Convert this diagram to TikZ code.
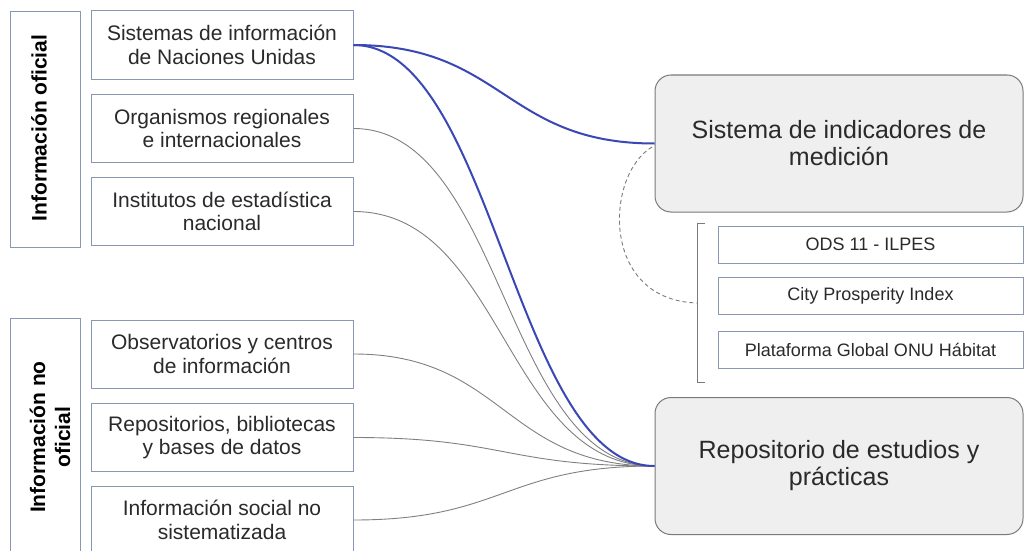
\documentclass[tikz,border=0pt]{standalone}
\usepackage{fontspec}
\setmainfont{Liberation Sans}
\definecolor{boxc}{HTML}{8898B2}
\definecolor{bigc}{HTML}{7A7A7A}
\definecolor{bigfill}{HTML}{EFEFEF}
\definecolor{txt}{HTML}{2A2A2A}
\definecolor{linkblue}{HTML}{3A47B5}
\definecolor{linkgray}{HTML}{808080}
\begin{document}
\begin{tikzpicture}[x=1pt,y=-1pt,
  item/.style={draw=boxc, fill=white, line width=1pt, minimum width=262pt, minimum height=68pt, align=center, inner sep=0pt, text=txt, font=\fontsize{21}{23.5}\selectfont},
  group/.style={draw=boxc, line width=1pt, minimum width=70pt, minimum height=235pt, inner sep=0pt},
  grouptext/.style={rotate=90, align=center, text=black, font=\fontsize{21}{25}\selectfont\bfseries},
  big/.style={draw=bigc, fill=bigfill, line width=1pt, rounded corners=16pt, minimum width=368pt, minimum height=137pt, align=center, inner sep=0pt, text=txt, font=\fontsize{25}{27}\selectfont},
  small/.style={draw=boxc, fill=white, line width=1pt, minimum width=305pt, minimum height=37pt, inner sep=0pt, text=txt, font=\fontsize{18}{20}\selectfont},
  bluelink/.style={draw=linkblue, line width=2pt},
  graylink/.style={draw=linkgray, line width=0.9pt},
  bracket/.style={draw=bigc, line width=1pt},
  dashlink/.style={draw=bigc, line width=0.9pt, dash pattern=on 4pt off 3pt}
]
\useasboundingbox (0,0) rectangle (1025,551);
\fill[white] (0,0) rectangle (1025,551);

% groups
\node[group] (g1) at (45,129.5) {};
\node[grouptext] (g1t) at (39,128) {Información oficial};
\node[group] (g2) at (45,435.5) {};
\node[grouptext] (g2t) at (50,437) {Información no\\oficial};

% items
\node[item] (b1) at (222,45) {Sistemas de información\\de Naciones Unidas};
\node[item] (b2) at (222,128.5) {Organismos regionales\\e internacionales};
\node[item] (b3) at (222,211.5) {Institutos de estadística\\nacional};
\node[item] (b4) at (222,354) {Observatorios y centros\\de información};
\node[item] (b5) at (222,437.5) {Repositorios, bibliotecas\\y bases de datos};
\node[item] (b6) at (222,520) {Información social no\\sistematizada};

% right side
\node[big] (sis) at (839,143.5) {Sistema de indicadores de\\medición};
\node[big] (rep) at (839,466) {Repositorio de estudios y\\prácticas};
\node[small] (s1) at (870.5,244.5) {ODS 11 - ILPES};
\node[small] (s2) at (870.5,295.5) {City Prosperity Index};
\node[small] (s3) at (870.5,350) {Plataforma Global ONU Hábitat};

% bracket
\coordinate (bt) at (705,223);
\coordinate (bb) at (705,382);
\coordinate (bm) at (697,303);
\draw[bracket] (bt) -- (697,223) -- (697,382) -- (bb);

% dashed arc
\coordinate (ds) at (652,147);
\draw[dashlink] (ds) .. controls (605,175) and (600,300) .. (bm);

% connectors (gray first)
\draw[graylink] (b2.east) .. controls +(150,0) and +(-150,0) .. (rep.west);
\draw[graylink] (b3.east) .. controls +(150,0) and +(-150,0) .. (rep.west);
\draw[graylink] (b4.east) .. controls +(150,0) and +(-150,0) .. (rep.west);
\draw[graylink] (b5.east) .. controls +(150,0) and +(-150,0) .. (rep.west);
\draw[graylink] (b6.east) .. controls +(150,0) and +(-150,0) .. (rep.west);
\draw[bluelink] (b1.east) .. controls +(140,0) and +(-140,0) .. (rep.west);
\draw[bluelink] (b1.east) .. controls +(150,0) and +(-150,0) .. (sis.west);
\end{tikzpicture}
\end{document}
